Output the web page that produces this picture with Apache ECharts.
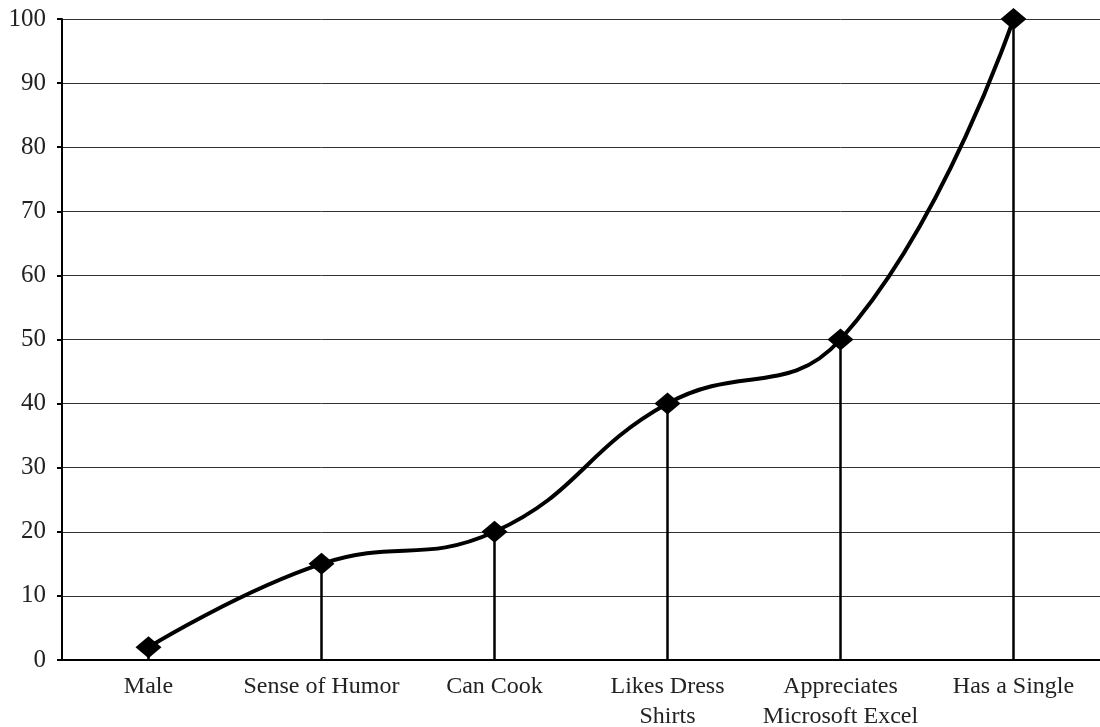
<!DOCTYPE html>
<html>
<head>
<meta charset="utf-8">
<script src="https://cdn.jsdelivr.net/npm/echarts@6/dist/echarts.min.js"></script>
<style>
  html, body { margin: 0; padding: 0; background: #fff; }
  #main { width: 1100px; height: 727px; }
</style>
</head>
<body>
<div id="main"></div>
<script>
// 分类和数值
const categories = ['Male', 'Sense of Humor', 'Can Cook', 'Likes Dress\nShirts', 'Appreciates\nMicrosoft Excel', 'Has a Single']
const values = [2, 15, 20, 40, 50, 100]

let chart = echarts.init(document.getElementById('main'))

let option = {
  animation: false,
  grid: {
    left: 62,
    right: 0,
    top: 19,
    bottom: 67,
    outerBoundsMode: 'none',
    containLabel: false
  },
  xAxis: {
    type: 'category',
    data: categories,
    boundaryGap: true,
    axisLine: { lineStyle: { color: '#000', width: 2 } },
    axisTick: { show: false },
    axisLabel: {
      color: '#222',
      fontFamily: 'Liberation Serif',
      fontSize: 24,
      lineHeight: 30,
      margin: 12,
      interval: 0
    }
  },
  yAxis: {
    type: 'value',
    min: 0,
    max: 100,
    interval: 10,
    axisLine: { show: true, lineStyle: { color: '#000', width: 2 } },
    axisTick: { show: true, length: 5, lineStyle: { color: '#000', width: 2 } },
    axisLabel: {
      color: '#222',
      fontFamily: 'Liberation Serif',
      fontSize: 25,
      margin: 16
    },
    splitLine: { lineStyle: { color: '#333', width: 1 } }
  },
  series: [
    {
      // 竖线
      type: 'bar',
      data: values,
      barWidth: 2.5,
      itemStyle: { color: '#000' },
      silent: true
    },
    {
      type: 'line',
      data: values,
      smooth: 0.45,
      symbol: 'diamond',
      symbolSize: [26, 22],
      itemStyle: { color: '#000' },
      lineStyle: { color: '#000', width: 4 },
      z: 5
    }
  ]
}
chart.setOption(option)
</script>
</body>
</html>
